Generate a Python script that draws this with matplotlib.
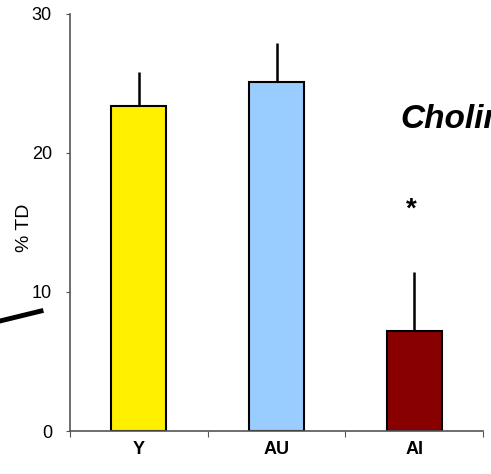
import numpy as np
import matplotlib
matplotlib.use('Agg')
import matplotlib.pyplot as plt
from matplotlib.lines import Line2D

plt.rcParams['font.family'] = ['Liberation Sans', 'DejaVu Sans']

groups = ['Y', 'AU', 'AI']
means = [23.35, 25.05, 7.2]
errs = [2.45, 2.85, 4.2]
colors = ['#FFF000', '#99CCFF', '#880000']

fig = plt.figure(figsize=(4.91, 4.74), dpi=100)
ax = fig.add_axes([70/491, 1-431/474, 413/491, (431-13.5)/474])

x = np.arange(len(groups)) + 0.5
ax.bar(x, means, width=0.4, color=colors, edgecolor='black', linewidth=1.5, zorder=2)
ax.errorbar(x, means, yerr=[np.zeros(len(errs)), errs], fmt='none',
            ecolor='black', elinewidth=1.8, capsize=0, zorder=1)

ax.set_xlim(0, 3)
ax.set_ylim(0, 30)
ax.set_yticks([0, 10, 20, 30])
ax.set_xticks([0, 1, 2, 3])
ax.set_xticklabels([])
ax.set_xticks(x, minor=True)
ax.set_xticklabels(groups, minor=True, fontweight='bold', fontsize=13)
ax.tick_params(axis='x', which='minor', length=0, pad=7)
ax.tick_params(axis='x', which='major', length=4, color='#555555')
ax.tick_params(axis='y', length=3, color='#555555', labelsize=13, pad=10)
for s in ['top', 'right']:
    ax.spines[s].set_visible(False)
for s in ['left', 'bottom']:
    ax.spines[s].set_color('#555555')
    ax.spines[s].set_linewidth(1.2)

ax.set_ylabel('% TD', fontsize=14)
ax.yaxis.set_label_coords(-0.0896, 0.486)

ax.text(2.48, 15.9, '*', fontsize=20, fontweight='bold', ha='center', va='center')

fig.text(400/491, 1-128/474, 'Cholinergic', fontsize=24, fontweight='bold',
         fontstyle='italic', ha='left', va='baseline')

fig.add_artist(Line2D([0, 41/491], [1-321/474, 1-311/474], color='black',
                      linewidth=3.5, transform=fig.transFigure))

fig.savefig('out.png', dpi=100)
